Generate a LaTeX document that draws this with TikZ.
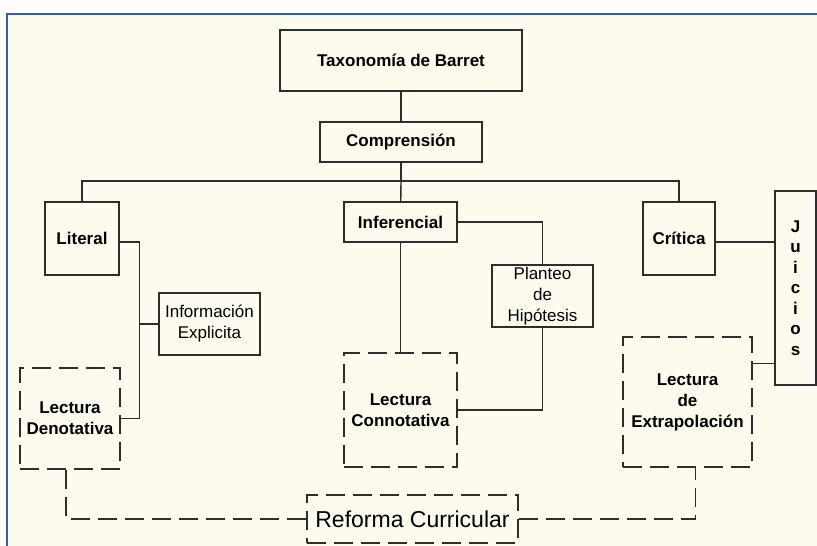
\documentclass[tikz,border=0pt]{standalone}
\usepackage{fontspec}
\setmainfont{Liberation Sans}
\usetikzlibrary{positioning}
\definecolor{papel}{RGB}{252,251,238}
\definecolor{marco}{RGB}{60,90,170}
\definecolor{trazo}{RGB}{45,45,45}

\begin{document}
\begin{tikzpicture}[x=1pt, y=-1pt,
  caja/.style={draw=trazo, line width=1.4pt, inner sep=0pt, align=center, text=black},
  cajab/.style={caja, font=\fontsize{17}{21}\selectfont\bfseries},
  cajan/.style={caja, font=\fontsize{17}{21}\selectfont},
  lect/.style={cajab, dash pattern=on 19pt off 8pt},
  linea/.style={draw=trazo, line width=1.4pt},
  lineap/.style={linea, dash pattern=on 19pt off 8pt}]
  \useasboundingbox (0,0) rectangle (817,546);
  \fill[white] (0,0) rectangle (817,546);
  \fill[papel] (7,14) rectangle (817,546);
  \draw[marco, line width=2pt] (7,546) -- (7,14) -- (817,14);

  % cabecera
  \node[cajab, minimum width=242pt, minimum height=61pt] (tax) at (401,60.5) {Taxonomía de Barret};
  \node[cajab, minimum width=162pt, minimum height=40pt] (comp) at (401,142) {Comprensión};
  \coordinate (bus) at (401,181);

  % niveles
  \node[cajab, minimum width=74pt, minimum height=73pt] (lit) at (82,238.5) {Literal};
  \node[cajab, minimum width=113pt, minimum height=40pt] (inf) at (400.5,222) {Inferencial};
  \node[cajab, minimum width=72pt, minimum height=73pt] (cri) at (679,238.5) {Crítica};
  \node[caja, font=\fontsize{17}{20.5}\selectfont\bfseries, minimum width=41pt, minimum height=194pt] (jui) at (795.5,288) {J\\u\\i\\c\\i\\o\\s};

  \node[cajan, minimum width=101pt, minimum height=62pt] (info) at (209.5,324) {Información\\Explicita};
  \node[cajan, minimum width=101pt, minimum height=62pt] (plan) at (542.5,296) {Planteo\\de\\Hipótesis};

  % lecturas
  \node[lect, minimum width=100pt, minimum height=101pt] (den) at (70,418.5) {Lectura\\Denotativa};
  \node[lect, minimum width=113pt, minimum height=114pt] (con) at (400.5,410) {Lectura\\Connotativa};
  \node[lect, minimum width=129pt, minimum height=130pt] (ext) at (687.5,402) {Lectura\\de\\Extrapolación};
  \node[caja, font=\fontsize{23}{26}\selectfont, dash pattern=on 19pt off 8pt, minimum width=211pt, minimum height=48pt] (ref) at (412.5,519) {Reforma Curricular};

  % conectores
  \draw[linea] (tax) -- (comp);
  \draw[linea] (comp) -- (bus);
  \draw[linea] (lit.north) |- (bus) -| (cri.north);
  \draw[linea] (bus) -- (inf);
  \draw[linea] ([yshift=-3.5pt]lit.east) -- ++(20,0) coordinate (ltr) |- (den.east);
  \draw[linea] (info.west) -- (info.west -| ltr);
  \draw[linea] (inf.east) -| (plan.north);
  \draw[linea] (inf) -- (con);
  \draw[linea] (plan.south) |- (con.east);
  \draw[linea] ([yshift=-3.5pt]cri.east) -- ([yshift=-3.5pt]cri.east -| jui.west);
  \draw[linea] (ext.north east) ++(0,27) coordinate (e1) -- (e1 -| jui.west);
  \draw[lineap] ([xshift=-4pt]den.south) |- (ref.west);
  \draw[lineap] (ref.east) -| ([xshift=8pt]ext.south);
\end{tikzpicture}
\end{document}
